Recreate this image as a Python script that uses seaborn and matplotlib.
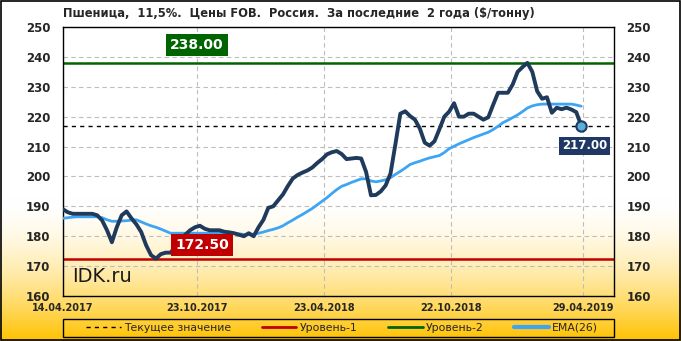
import numpy as np
import pandas as pd
import matplotlib
matplotlib.use('Agg')
import matplotlib.pyplot as plt
import seaborn as sns

# Weekly wheat prices, FOB Russia ($/t)
price = [189, 188, 187.5, 187.5, 187.5, 187.5, 187.5, 187, 185.3, 182,
         178, 183, 187, 188.3, 186, 184, 181.4, 177, 173.7, 172.5,
         174, 174.5, 174.5, 176.5, 178.5, 180.5, 182, 183, 183.5, 182.5,
         182, 182, 182, 181.5, 181.3, 181, 180.5, 180, 181, 180,
         183, 185.5, 189.5, 190, 192, 194, 196.8, 199.3, 200.5, 201.3,
         202, 203, 204.5, 205.8, 207.4, 208.1, 208.5, 207.5, 205.8, 206,
         206.2, 206, 201.5, 193.7, 193.8, 195, 197, 201, 210.8, 221,
         221.8, 220.2, 219, 216, 211.3, 210.3, 211.8, 215.8, 220, 221.7,
         224.5, 220, 220, 221, 221, 220, 219, 219.8, 224, 228,
         228, 228, 230.8, 235, 236.6, 238, 235, 228.5, 226, 226.5,
         221.3, 223, 222.5, 223, 222.4, 221.5, 217]

ema = [186, 186.2, 186.4, 186.5, 186.5, 186.5, 186.5, 186.5, 186.2, 185.5,
       185, 185, 185.1, 185.2, 185.4, 185.5, 184.8, 184.1, 183.5, 183,
       182.4, 181.7, 181, 181, 181, 181, 181, 181, 181, 181,
       181, 181, 181, 181, 181, 181, 180.8, 180.6, 180.5, 180.7,
       181, 181.4, 181.9, 182.3, 182.8, 183.5, 184.5, 185.4, 186.4, 187.3,
       188.3, 189.3, 190.5, 191.7, 192.9, 194.3, 195.6, 196.7, 197.3, 198,
       198.6, 199.2, 199.2, 198.5, 198.2, 198.5, 198.9, 199.6, 200.7, 201.7,
       202.8, 204, 204.6, 205.1, 205.7, 206.2, 206.6, 207, 208, 209.3,
       210.1, 210.9, 211.6, 212.3, 213, 213.6, 214.2, 214.8, 215.7, 216.8,
       218, 218.8, 219.7, 220.6, 221.7, 222.9, 223.6, 224, 224.2, 224.2,
       224.2, 224.2, 224.2, 224.2, 224.2, 223.9, 223.5]

dates = pd.date_range('2017-04-14', periods=len(price), freq='7D')
tick_dates = ['2017-04-14', '2017-10-23', '2018-04-23', '2018-10-22', '2019-04-29']
tick_labels = ['14.04.2017', '23.10.2017', '23.04.2018', '22.10.2018', '29.04.2019']
level_1 = 172.5
level_2 = 238.0
current = 217.0

df = pd.DataFrame({'date': dates, 'price': price, 'ema': ema})

sns.set_style('white')
plt.rcParams['font.family'] = ['DejaVu Sans']

fig = plt.figure(figsize=(6.81, 3.41), dpi=100)

# background: white fading to gold at the bottom
bg = fig.add_axes([0, 0, 1, 1], zorder=-10)
t = np.linspace(0, 1, 341)
s = np.clip((t - 0.58) / 0.42, 0, 1) ** 1.7
top = np.array([1.0, 1.0, 1.0])
gold = np.array([1.0, 0.76, 0.0])
grad = (1 - s)[:, None] * top + s[:, None] * gold
bg.imshow(np.repeat(grad[:, None, :], 10, axis=1), aspect='auto', extent=[0, 1, 0, 1])
bg.set_axis_off()
fig.patches.append(plt.Rectangle((0.001, 0.002), 0.997, 0.995, transform=fig.transFigure,
                                 fill=False, edgecolor='black', lw=1.2))
# legend frame
fig.patches.append(plt.Rectangle((63 / 681, 1 - 337 / 341), 551 / 681, 18 / 341,
                                 transform=fig.transFigure, fill=False,
                                 edgecolor='black', lw=1))

ax = fig.add_axes([63 / 681, 1 - 296 / 341, 551 / 681, 269 / 341])
ax.patch.set_alpha(0)

sns.lineplot(data=df, x='date', y='price', ax=ax, color='#203A5C', lw=2.8, zorder=4)
sns.lineplot(data=df, x='date', y='ema', ax=ax, color='#3DA5F4', lw=2.0, zorder=3)
ax.axhline(level_2, color='#006400', lw=1.8, zorder=2)
ax.axhline(level_1, color='#C00000', lw=1.8, zorder=2)
ax.axhline(current, color='black', lw=1.0, ls=(0, (3, 3)), zorder=2)
ax.scatter([df['date'].iloc[-1]], [price[-1]], s=55, color='#5AAFD6',
           edgecolor='#1F3864', lw=1.5, zorder=6)

ax.set_ylim(160, 250)
ax.set_xlim(pd.Timestamp('2017-04-14'), pd.Timestamp('2019-06-12'))
ax.set_yticks(range(160, 251, 10))
ax.set_xticks(pd.to_datetime(tick_dates))
ax.set_xticklabels(tick_labels)
ax.grid(True, color='#BDBDBD', lw=0.8, ls=(0, (4, 3)))
ax.tick_params(axis='y', length=0, pad=9, labelsize=8.5, labelright=True)
ax.tick_params(axis='x', length=0, pad=5, labelsize=7)
for lab in ax.get_xticklabels() + ax.get_yticklabels():
    lab.set_fontweight('bold')
for lab in ax.yaxis.get_ticklabels(which='both'):
    lab.set_fontweight('bold')
for sp in ax.spines.values():
    sp.set_color('black')
    sp.set_linewidth(1)
ax.set_xlabel('')
ax.set_ylabel('')

tr = ax.get_yaxis_transform()
ax.text(0.243, 244, '238.00', transform=tr, ha='center', va='center', color='white',
        fontsize=10, fontweight='bold', zorder=7,
        bbox=dict(boxstyle='square,pad=0.3', fc='#006400', ec='none'))
ax.text(0.252, 177.1, '172.50', transform=tr, ha='center', va='center', color='white',
        fontsize=10, fontweight='bold', zorder=7,
        bbox=dict(boxstyle='square,pad=0.3', fc='#C00000', ec='none'))
ax.text(0.947, 210.2, '217.00', transform=tr, ha='center', va='center', color='white',
        fontsize=8.5, fontweight='bold', zorder=7,
        bbox=dict(boxstyle='square,pad=0.25', fc='#1F3864', ec='none'))
ax.text(0.016, 164.7, 'IDK.ru', transform=tr, ha='left', va='baseline',
        color='#1A1A1A', fontsize=14, zorder=7)

fig.text(63 / 681, 1 - 14 / 341,
         'Пшеница,  11,5%.  Цены FOB.  Россия.  За последние  2 года ($/тонну)',
         ha='left', va='center', fontsize=8.3, fontweight='bold')

handles = [plt.Line2D([], [], color='black', lw=1, ls=(0, (3, 3))),
           plt.Line2D([], [], color='#C00000', lw=2),
           plt.Line2D([], [], color='#006400', lw=2),
           plt.Line2D([], [], color='#3DA5F4', lw=3)]
names = ['Текущее значение', 'Уровень-1', 'Уровень-2', 'EMA(26)']
leg = fig.legend(handles, names, loc='center left', ncol=4, mode='expand',
                 bbox_to_anchor=(86 / 681, 1 - 337 / 341, 512 / 681, 18 / 341),
                 fontsize=7.8, frameon=False, handlelength=3.2,
                 borderpad=0, handletextpad=0.3, borderaxespad=0)

fig.savefig('out.png', dpi=100)
